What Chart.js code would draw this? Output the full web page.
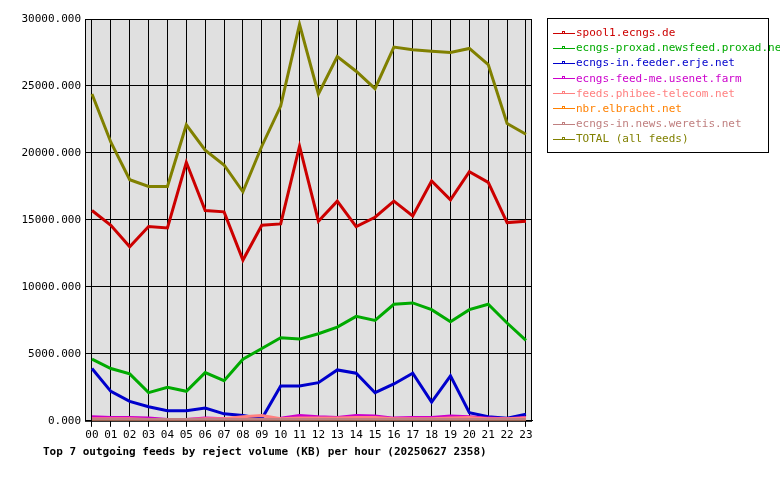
<!DOCTYPE html>
<html><head><meta charset="utf-8">
<script src="https://cdn.jsdelivr.net/npm/chart.js@4"></script>
<style>
body{margin:0;background:#fff;font-family:"DejaVu Sans Mono",monospace;}
#wrap{position:relative;width:780px;height:480px;}
#legend{position:absolute;left:547px;top:18px;width:222px;height:135px;border:1px solid #000;font-size:11px;box-sizing:border-box;padding:6px 0 0 5px;}
#legend div{height:15.2px;line-height:15px;white-space:nowrap;}
#legend span.l{display:inline-block;width:22px;height:1px;vertical-align:middle;position:relative;margin-right:1px;}
#legend span.l i{position:absolute;left:9px;top:-2px;width:3px;height:3px;border:1px solid;box-sizing:border-box;background:#fff;}
#title{position:absolute;left:43px;top:445px;font-size:11px;font-weight:bold;}
</style></head><body>
<div id="wrap"><canvas id="c" width="780" height="480"></canvas><div id="legend"></div>
<div id="title">Top 7 outgoing feeds by reject volume (KB) per hour (20250627 2358)</div></div>
<script>
const hours=["00","01","02","03","04","05","06","07","08","09","10","11","12","13","14","15","16","17","18","19","20","21","22","23"];
const names=["spool1.ecngs.de","ecngs-proxad.newsfeed.proxad.net","ecngs-in.feeder.erje.net","ecngs-feed-me.usenet.farm","feeds.phibee-telecom.net","nbr.elbracht.net","ecngs-in.news.weretis.net","TOTAL (all feeds)"];
const colors=["#cc0000","#00aa00","#0000cc","#cc00cc","#ff8080","#ff8000","#c08080","#808000"];
const spool1=[15700,14600,13000,14500,14400,19300,15700,15600,12000,14600,14700,20500,14900,16400,14500,15200,16400,15300,17900,16500,18600,17800,14800,14900];
const proxad=[4600,3900,3500,2100,2500,2200,3600,3000,4600,5400,6200,6100,6500,7000,7800,7500,8700,8800,8300,7400,8300,8700,7300,6000];
const erje=[3900,2200,1450,1050,750,750,950,520,400,150,2600,2600,2850,3800,3550,2100,2750,3550,1400,3350,600,300,200,500];
const usenetFarm=[300,250,250,200,100,100,200,150,100,100,200,400,300,250,400,350,200,250,250,350,300,200,150,250];
const phibee=[150,150,150,100,100,100,150,150,300,400,150,200,200,200,250,250,150,150,150,200,250,150,150,200];
const elbracht=[50,50,50,50,50,50,50,50,50,50,50,50,50,50,50,50,50,50,50,50,50,50,50,50];
const weretis=[100,100,100,100,100,100,100,100,100,100,100,100,100,100,100,100,100,100,100,100,100,100,100,100];
const total=[24400,20800,18000,17500,17500,22100,20200,19100,17100,20500,23500,29600,24400,27200,26100,24800,27900,27700,27600,27500,27800,26600,22200,21400];
const series=[spool1,proxad,erje,usenetFarm,phibee,elbracht,weretis,total];
const yTicks=[0,5000,10000,15000,20000,25000,30000];
const F="'DejaVu Sans Mono', monospace";
const lg=document.getElementById('legend');
names.forEach((n,i)=>{lg.innerHTML+=`<div style="color:${colors[i]}"><span class="l" style="background:${colors[i]}"><i style="border-color:${colors[i]}"></i></span>${n}</div>`;});
const order=[6,5,4,3,2,1,0,7];
const bg={id:'bg',beforeDraw(c){const a=c.chartArea,x=c.ctx;x.save();x.fillStyle='#e0e0e0';x.fillRect(a.left,a.top,a.width,a.height);x.restore();},
afterDraw(c){const a=c.chartArea,x=c.ctx;x.save();x.strokeStyle='#000';x.lineWidth=1;x.strokeRect(a.left+0.5,a.top+0.5,a.width-1,a.height);x.restore();}};
new Chart(document.getElementById('c'),{type:'line',
data:{datasets:order.map(i=>({label:names[i],data:series[i].map((v,k)=>({x:k,y:v})),borderColor:colors[i],borderWidth:3,pointRadius:0,tension:0,fill:false}))},
options:{responsive:false,animation:false,layout:{padding:{left:0,right:248,top:19,bottom:36}},
plugins:{legend:{display:false},tooltip:{enabled:false}},
scales:{x:{type:'linear',min:-0.37,max:23.32,afterBuildTicks(ax){ax.ticks=hours.map((h,k)=>({value:k}));},
 ticks:{autoSkip:false,maxRotation:0,color:'#000',font:{family:F,size:11},padding:2,callback:(v)=>hours[v]},
 grid:{color:'#000',lineWidth:1,tickLength:6,drawTicks:true},border:{color:'#000'}},
 y:{min:0,max:30000,afterBuildTicks(ax){ax.ticks=yTicks.map(v=>({value:v}));},
 ticks:{color:'#000',font:{family:F,size:11},padding:4,callback:v=>v.toFixed(3)},
 grid:{color:'#000',lineWidth:1,drawTicks:false},border:{color:'#000'},afterFit(ax){ax.width=85;}}}},
plugins:[bg]});
</script></body></html>
